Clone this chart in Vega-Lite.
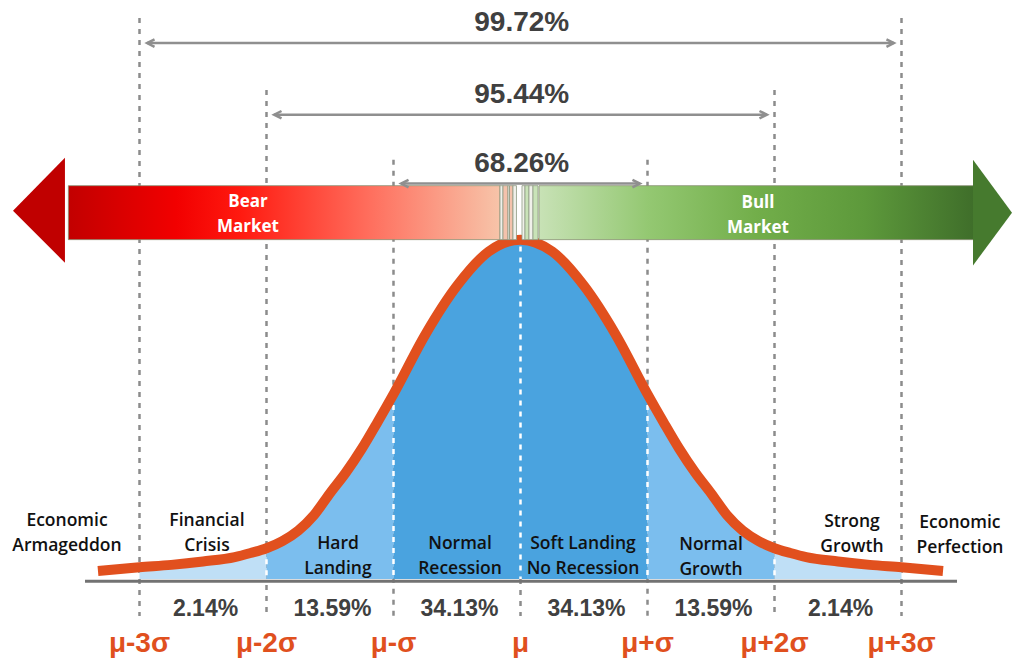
{
  "$schema": "https://vega.github.io/schema/vega-lite/v6.json",
  "width": 1014,
  "height": 658,
  "autosize": {"type": "fit", "contains": "padding"},
  "padding": 0,
  "background": "white",
  "config": {"view": {"stroke": null}},
  "resolve": {"scale": {"color": "independent", "shape": "independent"}},
  "datasets": {
    "curve": [
      {"z": -3.327, "h": 2.4}, {"z": -3.0, "h": 3.5}, {"z": -2.75, "h": 4.2}, {"z": -2.5, "h": 5.2},
      {"z": -2.25, "h": 6.5}, {"z": -2.125, "h": 7.7}, {"z": -2.0, "h": 9.1}, {"z": -1.875, "h": 11.2},
      {"z": -1.75, "h": 14.3}, {"z": -1.625, "h": 18.9}, {"z": -1.5, "h": 25.3}, {"z": -1.375, "h": 31.4},
      {"z": -1.25, "h": 38.4}, {"z": -1.125, "h": 46.3}, {"z": -1.0, "h": 54.5}, {"z": -0.75, "h": 72.0},
      {"z": -0.5, "h": 86.4}, {"z": -0.25, "h": 96.5}, {"z": 0, "h": 100},
      {"z": 0.25, "h": 96.5}, {"z": 0.5, "h": 86.4}, {"z": 0.75, "h": 72.0}, {"z": 1.0, "h": 54.5},
      {"z": 1.125, "h": 46.3}, {"z": 1.25, "h": 38.4}, {"z": 1.375, "h": 31.4}, {"z": 1.5, "h": 25.3},
      {"z": 1.625, "h": 18.9}, {"z": 1.75, "h": 14.3}, {"z": 1.875, "h": 11.2}, {"z": 2.0, "h": 9.1},
      {"z": 2.125, "h": 7.7}, {"z": 2.25, "h": 6.5}, {"z": 2.5, "h": 5.2}, {"z": 2.75, "h": 4.2},
      {"z": 3.0, "h": 3.5}, {"z": 3.327, "h": 2.4}
    ],
    "bands": [
      {"z": -3.0, "h": 3.5, "band": "outer", "seg": "L3"}, {"z": -2.75, "h": 4.2, "band": "outer", "seg": "L3"},
      {"z": -2.5, "h": 5.2, "band": "outer", "seg": "L3"}, {"z": -2.25, "h": 6.5, "band": "outer", "seg": "L3"},
      {"z": -2.125, "h": 7.7, "band": "outer", "seg": "L3"}, {"z": -2.0, "h": 9.1, "band": "outer", "seg": "L3"},
      {"z": -2.0, "h": 9.1, "band": "middle", "seg": "L2"}, {"z": -1.875, "h": 11.2, "band": "middle", "seg": "L2"},
      {"z": -1.75, "h": 14.3, "band": "middle", "seg": "L2"}, {"z": -1.625, "h": 18.9, "band": "middle", "seg": "L2"},
      {"z": -1.5, "h": 25.3, "band": "middle", "seg": "L2"}, {"z": -1.375, "h": 31.4, "band": "middle", "seg": "L2"},
      {"z": -1.25, "h": 38.4, "band": "middle", "seg": "L2"}, {"z": -1.125, "h": 46.3, "band": "middle", "seg": "L2"},
      {"z": -1.0, "h": 54.5, "band": "middle", "seg": "L2"},
      {"z": -1.0, "h": 54.5, "band": "inner", "seg": "C"}, {"z": -0.75, "h": 72.0, "band": "inner", "seg": "C"},
      {"z": -0.5, "h": 86.4, "band": "inner", "seg": "C"}, {"z": -0.25, "h": 96.5, "band": "inner", "seg": "C"},
      {"z": 0, "h": 100, "band": "inner", "seg": "C"}, {"z": 0.25, "h": 96.5, "band": "inner", "seg": "C"},
      {"z": 0.5, "h": 86.4, "band": "inner", "seg": "C"}, {"z": 0.75, "h": 72.0, "band": "inner", "seg": "C"},
      {"z": 1.0, "h": 54.5, "band": "inner", "seg": "C"},
      {"z": 1.0, "h": 54.5, "band": "middle", "seg": "R2"}, {"z": 1.125, "h": 46.3, "band": "middle", "seg": "R2"},
      {"z": 1.25, "h": 38.4, "band": "middle", "seg": "R2"}, {"z": 1.375, "h": 31.4, "band": "middle", "seg": "R2"},
      {"z": 1.5, "h": 25.3, "band": "middle", "seg": "R2"}, {"z": 1.625, "h": 18.9, "band": "middle", "seg": "R2"},
      {"z": 1.75, "h": 14.3, "band": "middle", "seg": "R2"}, {"z": 1.875, "h": 11.2, "band": "middle", "seg": "R2"},
      {"z": 2.0, "h": 9.1, "band": "middle", "seg": "R2"},
      {"z": 2.0, "h": 9.1, "band": "outer", "seg": "R3"}, {"z": 2.125, "h": 7.7, "band": "outer", "seg": "R3"},
      {"z": 2.25, "h": 6.5, "band": "outer", "seg": "R3"}, {"z": 2.5, "h": 5.2, "band": "outer", "seg": "R3"},
      {"z": 2.75, "h": 4.2, "band": "outer", "seg": "R3"}, {"z": 3.0, "h": 3.5, "band": "outer", "seg": "R3"}
    ],
    "vlines": [
      {"z": -3, "h": 165.3, "h2": -10.9}, {"z": -2, "h": 144.1, "h2": -10.9}, {"z": -1, "h": 123.5, "h2": -10.9},
      {"z": 0, "h": 0, "h2": -10.9},
      {"z": 1, "h": 123.5, "h2": -10.9}, {"z": 2, "h": 144.1, "h2": -10.9}, {"z": 3, "h": 165.3, "h2": -10.9}
    ],
    "wlines": [
      {"z": -2, "h": 9.1, "h2": 0}, {"z": -1, "h": 54.5, "h2": 0}, {"z": 0, "h": 98, "h2": 0},
      {"z": 1, "h": 54.5, "h2": 0}, {"z": 2, "h": 9.1, "h2": 0}
    ],
    "spans": [
      {"z": -2.94, "z2": 2.94, "h": 157.9}, {"z": -1.94, "z2": 1.94, "h": 136.8}, {"z": -0.94, "z2": 0.94, "h": 116.5}
    ],
    "chevrons": [
      {"z": -2.94, "h": 157.9, "dir": "L"}, {"z": 2.94, "h": 157.9, "dir": "R"},
      {"z": -1.94, "h": 136.8, "dir": "L"}, {"z": 1.94, "h": 136.8, "dir": "R"},
      {"z": -0.94, "h": 116.5, "dir": "L"}, {"z": 0.94, "h": 116.5, "dir": "R"}
    ],
    "spanLabels": [
      {"z": 0.01, "h": 163.8, "t": "99.72%"}, {"z": 0.01, "h": 142.5, "t": "95.44%"}, {"z": 0.01, "h": 122.4, "t": "68.26%"}
    ],
    "heads": [
      {"z": -3.996, "h": 108.5, "h2": 108.5, "side": "bear"}, {"z": -3.587, "h": 124.1, "h2": 93.2, "side": "bear"},
      {"z": 3.563, "h": 123.5, "h2": 92.4, "side": "bull"}, {"z": 3.87, "h": 107.9, "h2": 107.9, "side": "bull"}
    ],
    "stripes": [
      {"z": -0.1614, "z2": -0.1378, "h": 115.9, "h2": 100, "kind": "w"},
      {"z": -0.1378, "z2": -0.0984, "h": 115.9, "h2": 100, "kind": "p"},
      {"z": -0.0984, "z2": -0.0866, "h": 115.9, "h2": 100, "kind": "w"},
      {"z": -0.0866, "z2": -0.0591, "h": 115.9, "h2": 100, "kind": "p"},
      {"z": -0.0591, "z2": -0.0315, "h": 115.9, "h2": 100, "kind": "w"},
      {"z": 0.0118, "z2": 0.0354, "h": 115.9, "h2": 100, "kind": "w"},
      {"z": 0.0354, "z2": 0.0669, "h": 115.9, "h2": 100, "kind": "g"},
      {"z": 0.0669, "z2": 0.0984, "h": 115.9, "h2": 100, "kind": "w"},
      {"z": 0.0984, "z2": 0.1378, "h": 115.9, "h2": 100, "kind": "g"}
    ],
    "pct": [
      {"z": -2.48, "h": -8.8, "t": "2.14%"}, {"z": -1.48, "h": -8.8, "t": "13.59%"}, {"z": -0.48, "h": -8.8, "t": "34.13%"},
      {"z": 0.52, "h": -8.8, "t": "34.13%"}, {"z": 1.52, "h": -8.8, "t": "13.59%"}, {"z": 2.52, "h": -8.8, "t": "2.14%"}
    ],
    "sig": [
      {"z": -3, "h": -19.1, "t": "μ-3σ"}, {"z": -2, "h": -19.1, "t": "μ-2σ"}, {"z": -1, "h": -19.1, "t": "μ-σ"},
      {"z": 0, "h": -19.1, "t": "μ"}, {"z": 1, "h": -19.1, "t": "μ+σ"}, {"z": 2, "h": -19.1, "t": "μ+2σ"},
      {"z": 3, "h": -19.1, "t": "μ+3σ"}
    ],
    "cats": [
      {"z": -3.571, "h": 17.0, "t": "Economic\nArmageddon"},
      {"z": -2.469, "h": 17.0, "t": "Financial\nCrisis"},
      {"z": -1.437, "h": 10.3, "t": "Hard\nLanding"},
      {"z": -0.476, "h": 10.3, "t": "Normal\nRecession"},
      {"z": 0.492, "h": 10.3, "t": "Soft Landing\nNo Recession"},
      {"z": 1.5, "h": 10.0, "t": "Normal\nGrowth"},
      {"z": 2.61, "h": 16.8, "t": "Strong\nGrowth"},
      {"z": 3.46, "h": 16.5, "t": "Economic\nPerfection"}
    ],
    "market": [
      {"z": -2.146, "h": 111.2, "t": "Bear\nMarket"},
      {"z": 1.87, "h": 110.9, "t": "Bull\nMarket"}
    ]
  },
  "encoding": {
    "x": {"field": "z", "type": "quantitative", "scale": {"domain": [-4.0984, 3.8858], "nice": false, "zero": false}, "axis": null},
    "y": {"field": "h", "type": "quantitative", "scale": {"domain": [-22.941, 170.588], "nice": false, "zero": false}, "axis": null, "stack": null}
  },
  "layer": [
    {
      "data": {"name": "vlines"},
      "mark": {"type": "rule", "color": "#8c8c8c", "strokeWidth": 2.5, "strokeDash": [5, 6]},
      "encoding": {"y2": {"field": "h2"}}
    },
    {
      "data": {"name": "bands"},
      "mark": {"type": "area", "interpolate": "monotone"},
      "encoding": {
        "y2": {"datum": 0},
        "color": {"field": "band", "type": "nominal", "scale": {"domain": ["inner", "middle", "outer"], "range": ["#4AA3DF", "#7BBEEE", "#BFDFF6"]}, "legend": null},
        "detail": {"field": "seg"}
      }
    },
    {
      "data": {"name": "wlines"},
      "mark": {"type": "rule", "color": "white", "strokeWidth": 2.5, "strokeDash": [5, 6]},
      "encoding": {"y2": {"field": "h2"}}
    },
    {
      "data": {"values": [{"z": -3.429, "z2": 3.437, "h": -0.6}]},
      "mark": {"type": "rule", "color": "#727272", "strokeWidth": 3},
      "encoding": {"x2": {"field": "z2"}}
    },
    {
      "data": {"name": "curve"},
      "mark": {"type": "line", "interpolate": "monotone", "color": "#E1501E", "strokeWidth": 10, "strokeCap": "butt"},
      "encoding": {}
    },
    {
      "data": {"values": [{"z": -3.56, "z2": -0.1614, "h": 115.9, "h2": 100}]},
      "mark": {"type": "rect", "stroke": "#8a9275", "strokeWidth": 0.8,
        "fill": {"gradient": "linear", "x1": 0, "y1": 0, "x2": 1, "y2": 0, "stops": [
          {"offset": 0, "color": "#C20000"}, {"offset": 0.25, "color": "#F20000"}, {"offset": 0.4, "color": "#FF1A10"},
          {"offset": 0.7, "color": "#FF6F5E"}, {"offset": 1, "color": "#F7C4A9"}]}},
      "encoding": {"x2": {"field": "z2"}, "y2": {"field": "h2"}}
    },
    {
      "data": {"values": [{"z": 0.1457, "z2": 3.57, "h": 115.9, "h2": 100}]},
      "mark": {"type": "rect", "stroke": "#8a9275", "strokeWidth": 0.8,
        "fill": {"gradient": "linear", "x1": 0, "y1": 0, "x2": 1, "y2": 0, "stops": [
          {"offset": 0, "color": "#C8E2B6"}, {"offset": 0.25, "color": "#94C872"}, {"offset": 0.5, "color": "#72AE4A"},
          {"offset": 0.75, "color": "#5D993B"}, {"offset": 1, "color": "#3F6E2A"}]}},
      "encoding": {"x2": {"field": "z2"}, "y2": {"field": "h2"}}
    },
    {
      "data": {"name": "heads"},
      "mark": {"type": "area"},
      "encoding": {
        "y2": {"field": "h2"},
        "color": {"field": "side", "type": "nominal", "scale": {"domain": ["bear", "bull"], "range": ["#C00000", "#467A2E"]}, "legend": null},
        "detail": {"field": "side"}
      }
    },
    {
      "data": {"name": "stripes"},
      "mark": {"type": "rect", "stroke": "#8f9a84", "strokeWidth": 0.8},
      "encoding": {
        "x2": {"field": "z2"},
        "y2": {"field": "h2"},
        "color": {"field": "kind", "type": "nominal", "scale": {"domain": ["p", "g", "w"], "range": ["#F4C2AC", "#C9E3B8", "#F0F0EA"]}, "legend": null}
      }
    },
    {
      "data": {"name": "spans"},
      "mark": {"type": "rule", "color": "#8f8f8f", "strokeWidth": 2.5},
      "encoding": {"x2": {"field": "z2"}}
    },
    {
      "data": {"name": "chevrons"},
      "mark": {"type": "point", "filled": false, "size": 220, "color": "#8f8f8f", "strokeWidth": 2.5, "opacity": 1},
      "encoding": {
        "shape": {"field": "dir", "type": "nominal", "scale": {"domain": ["L", "R"], "range": ["M1,-0.5L0,0L1,0.5", "M-1,-0.5L0,0L-1,0.5"]}, "legend": null}
      }
    },
    {
      "data": {"name": "spanLabels"},
      "mark": {"type": "text", "font": "Liberation Sans", "fontWeight": "bold", "fontSize": 28, "color": "#404040", "baseline": "middle", "align": "center"},
      "encoding": {"text": {"field": "t"}}
    },
    {
      "data": {"name": "pct"},
      "mark": {"type": "text", "font": "Liberation Sans", "fontWeight": "bold", "fontSize": 23, "color": "#404040", "baseline": "middle", "align": "center"},
      "encoding": {"text": {"field": "t"}}
    },
    {
      "data": {"name": "sig"},
      "mark": {"type": "text", "font": "Liberation Sans", "fontWeight": "bold", "fontSize": 28, "color": "#E0501E", "baseline": "middle", "align": "center"},
      "encoding": {"text": {"field": "t"}}
    },
    {
      "data": {"name": "cats"},
      "mark": {"type": "text", "font": "Open Sans", "fontWeight": 600, "fontSize": 17.5, "color": "#111111", "baseline": "middle", "align": "center", "lineBreak": "\n", "lineHeight": 25},
      "encoding": {"text": {"field": "t"}}
    },
    {
      "data": {"name": "market"},
      "mark": {"type": "text", "font": "Open Sans", "fontWeight": "bold", "fontSize": 17, "color": "white", "baseline": "middle", "align": "center", "lineBreak": "\n", "lineHeight": 25},
      "encoding": {"text": {"field": "t"}}
    }
  ]
}
